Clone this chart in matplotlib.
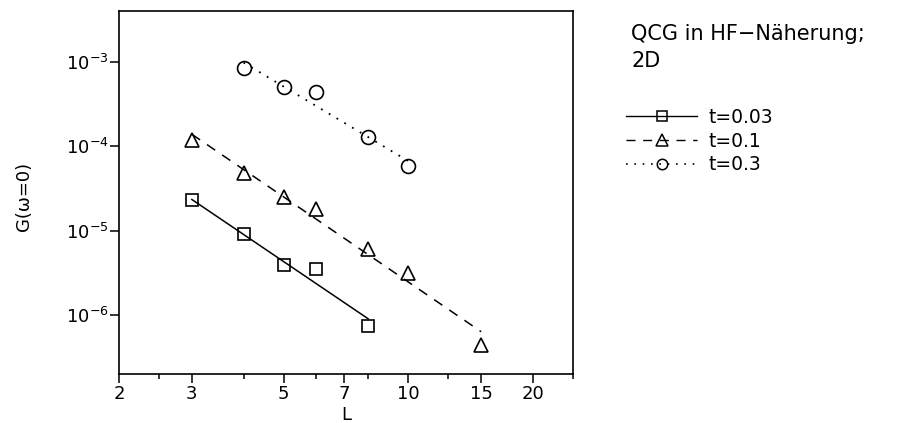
import matplotlib
matplotlib.use("Agg")
import matplotlib.pyplot as plt
from matplotlib.lines import Line2D
from matplotlib.ticker import FixedLocator, FixedFormatter, NullLocator, NullFormatter

plt.rcParams['font.family'] = ['DejaVu Sans']
plt.rcParams['mathtext.fontset'] = 'dejavusans'

# data
L_003 = [3, 4, 5, 6, 8]
G_003 = [2.3e-5, 9.2e-6, 3.9e-6, 3.55e-6, 7.4e-7]
L_01 = [3, 4, 5, 6, 8, 10, 15]
G_01 = [1.2e-4, 4.9e-5, 2.5e-5, 1.82e-5, 6.1e-6, 3.2e-6, 4.5e-7]
L_03 = [4, 5, 6, 8, 10]
G_03 = [8.4e-4, 5.0e-4, 4.4e-4, 1.3e-4, 5.9e-5]

# fitted lines (end points)
fit_L_003 = [3, 8]
fit_G_003 = [2.35e-5, 9.1e-7]
fit_L_01 = [3, 15]
fit_G_01 = [1.39e-4, 6.4e-7]
fit_L_03 = [4, 10]
fit_G_03 = [9.8e-4, 6.7e-5]

labels = ["t=0.03", "t=0.1", "t=0.3"]
xticks_major = [2, 3, 5, 7, 10, 15, 20]
xticks_minor = [2.5, 4, 6, 8, 12.5, 25]
yticks = [1e-6, 1e-5, 1e-4, 1e-3]
ytick_labels = [r'$10^{-6}$', r'$10^{-5}$', r'$10^{-4}$', r'$10^{-3}$']

fig = plt.figure(figsize=(8.98, 4.23), dpi=100)
ax = fig.add_axes([0.1325, 0.115, 0.5055, 0.859])
ax.set_xscale('log')
ax.set_yscale('log')

ax.plot(fit_L_003, fit_G_003, color='black', lw=1.1, ls='-')
ax.plot(fit_L_01, fit_G_01, color='black', lw=1.1, dashes=(6.5, 5.5))
ax.plot(fit_L_03, fit_G_03, color='black', lw=1.3, dashes=(1.0, 4.0))

ax.plot(L_003, G_003, ls='none', marker='s', ms=8.5, mfc='none', mec='black', mew=1.2)
ax.plot(L_01, G_01, ls='none', marker='^', ms=10.5, mfc='none', mec='black', mew=1.2)
ax.plot(L_03, G_03, ls='none', marker='o', ms=10, mfc='none', mec='black', mew=1.2)

ax.set_xlim(2, 25)
ax.set_ylim(2e-7, 4e-3)

ax.xaxis.set_major_locator(FixedLocator(xticks_major))
ax.xaxis.set_major_formatter(FixedFormatter([str(v) for v in xticks_major]))
ax.xaxis.set_minor_locator(FixedLocator(xticks_minor))
ax.xaxis.set_minor_formatter(NullFormatter())
ax.yaxis.set_major_locator(FixedLocator(yticks))
ax.yaxis.set_major_formatter(FixedFormatter(ytick_labels))
ax.yaxis.set_minor_locator(NullLocator())

ax.tick_params(axis='x', which='major', direction='out', length=6.5, width=1.1, pad=1.5, labelsize=13)
ax.tick_params(axis='x', which='minor', direction='out', length=3.6, width=1.1)
ax.tick_params(axis='y', which='major', direction='out', length=6.5, width=1.1, pad=1, labelsize=13)
for s in ax.spines.values():
    s.set_linewidth(1.2)

ax.set_xlabel("L", fontsize=13, va='top')
ax.xaxis.set_label_coords(0.5, -0.087)
ax.set_ylabel("G(ω=0)", fontsize=13, va='center')
ax.yaxis.set_label_coords(-0.209, 0.49)

fig.text(0.7027, 1 - 24 / 423, "QCG in HF−Näherung;\n2D", fontsize=15,
         ha='left', va='top', linespacing=1.45)

handles = [
    Line2D([], [], color='black', lw=1.0, ls='-', marker='s', ms=7, mfc='none', mew=1.1),
    Line2D([], [], color='black', lw=1.0, dashes=(6.5, 5.5), marker='^', ms=8, mfc='none', mew=1.1),
    Line2D([], [], color='black', lw=1.2, dashes=(1.0, 4.0), marker='o', ms=7.5, mfc='none', mew=1.1),
]
fig.legend(handles, labels, loc='upper left', bbox_to_anchor=(626 / 898, 1 - 108 / 423),
           frameon=False, fontsize=13.5, handlelength=3.8, handletextpad=0.6,
           borderpad=0, borderaxespad=0, labelspacing=0.25)

fig.savefig("out.png", dpi=100)
